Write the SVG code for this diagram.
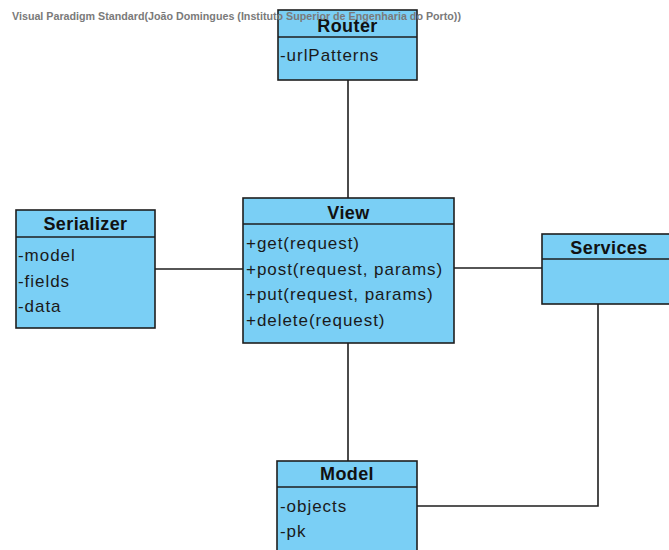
<svg xmlns="http://www.w3.org/2000/svg" width="669" height="550" viewBox="0 0 669 550">
  <style>
    .box { fill: #7ACFF5; stroke: #1e1e1e; stroke-width: 1.6; }
    .div { stroke: #1e1e1e; stroke-width: 1.6; }
    .title { font-family: "Liberation Sans", Arial, sans-serif; font-size: 18px; font-weight: bold; fill: #111; text-anchor: middle; letter-spacing: 0.4px; }
    .attr { font-family: "Liberation Sans", Arial, sans-serif; font-size: 17px; fill: #1a1a1a; letter-spacing: 0.95px; }
    .conn { fill: none; stroke: #1e1e1e; stroke-width: 1.6; }
    .wm { font-family: "Liberation Sans", Arial, sans-serif; font-size: 11px; font-weight: bold; fill: #7a7a7a; }
  </style>

  <!-- associations -->
  <g id="connectors">
    <line class="conn" x1="348" y1="80" x2="348" y2="198"/>
    <line class="conn" x1="155" y1="269" x2="243" y2="269"/>
    <line class="conn" x1="454" y1="268" x2="542" y2="268"/>
    <line class="conn" x1="348" y1="343" x2="348" y2="461"/>
    <polyline class="conn" points="417,506 598,506 598,304"/>
  </g>

  <g id="router">
    <rect class="box" x="278" y="10" width="139" height="70"/>
    <line class="div" x1="278" y1="37" x2="417" y2="37"/>
    <text class="title" x="347.5" y="32">Router</text>
    <text class="attr" x="280" y="61">-urlPatterns</text>
  </g>

  <g id="serializer">
    <rect class="box" x="16" y="210" width="139" height="118"/>
    <line class="div" x1="16" y1="237" x2="155" y2="237"/>
    <text class="title" x="85.5" y="230">Serializer</text>
    <text class="attr" x="18" y="261">-model</text>
    <text class="attr" x="18" y="287">-fields</text>
    <text class="attr" x="18" y="312">-data</text>
  </g>

  <g id="view">
    <rect class="box" x="243" y="198" width="211" height="145"/>
    <line class="div" x1="243" y1="224" x2="454" y2="224"/>
    <text class="title" x="348.5" y="219">View</text>
    <text class="attr" x="246" y="249">+get(request)</text>
    <text class="attr" x="246" y="275">+post(request, params)</text>
    <text class="attr" x="246" y="300">+put(request, params)</text>
    <text class="attr" x="246" y="326">+delete(request)</text>
  </g>

  <g id="services">
    <rect class="box" x="542" y="234" width="140" height="70"/>
    <line class="div" x1="542" y1="259" x2="682" y2="259"/>
    <text class="title" x="609" y="254">Services</text>
  </g>

  <g id="model">
    <rect class="box" x="277" y="461" width="140" height="100"/>
    <line class="div" x1="277" y1="487" x2="417" y2="487"/>
    <text class="title" x="347" y="480">Model</text>
    <text class="attr" x="280" y="512">-objects</text>
    <text class="attr" x="280" y="537">-pk</text>
  </g>

  <text class="wm" x="12" y="20" textLength="449" lengthAdjust="spacingAndGlyphs">Visual Paradigm Standard(João Domingues (Instituto Superior de Engenharia do Porto))</text>
</svg>
